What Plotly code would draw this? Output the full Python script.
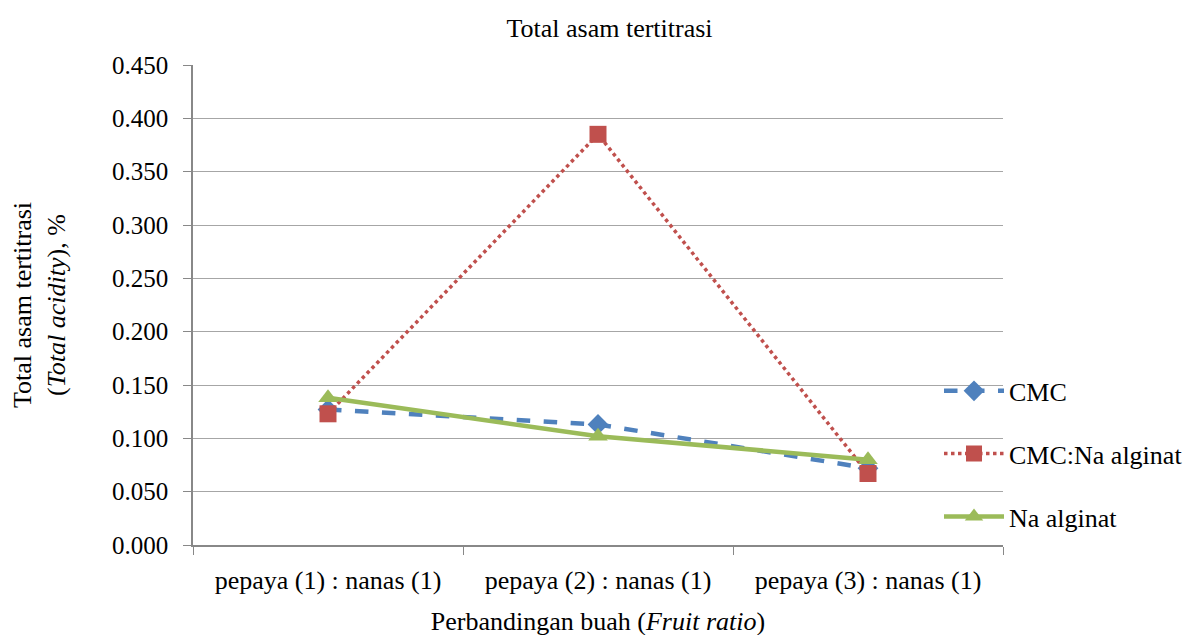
import plotly.graph_objects as go

categories = ["pepaya (1) : nanas (1)", "pepaya (2) : nanas (1)", "pepaya (3) : nanas (1)"]
cmc = [0.127, 0.113, 0.072]
cmc_na = [0.123, 0.385, 0.067]
na_alginat = [0.138, 0.102, 0.080]
y_ticks = [0.0, 0.05, 0.10, 0.15, 0.20, 0.25, 0.30, 0.35, 0.40, 0.45]

FONT = "Liberation Serif"
FS = 26

fig = go.Figure()
fig.add_trace(go.Scatter(
    x=categories, y=cmc, name="CMC", mode="lines+markers", legendgroup="a",
    line=dict(color="#4F81BD", width=4.5, dash="dash"),
    marker=dict(symbol="diamond", size=16, color="#4F81BD")))
fig.add_trace(go.Scatter(
    x=categories, y=cmc_na, name="CMC:Na alginat", mode="lines+markers", legendgroup="b",
    line=dict(color="#C0504D", width=3.5, dash="dot"),
    marker=dict(symbol="square", size=17, color="#C0504D")))
fig.add_trace(go.Scatter(
    x=categories, y=na_alginat, name="Na alginat", mode="lines+markers", legendgroup="c",
    line=dict(color="#9BBB59", width=4.5),
    marker=dict(symbol="triangle-up", size=17, color="#9BBB59")))

fig.update_layout(
    width=1203, height=635,
    margin=dict(l=185, r=208, t=57, b=98),
    paper_bgcolor="white", plot_bgcolor="white",
    font=dict(family=FONT, size=FS, color="black"),
    title=dict(text="Total asam tertitrasi", x=0.5, xanchor="center", y=0.968, yanchor="middle",
               font=dict(family=FONT, size=FS, color="black")),
    legend=dict(x=0.921, xanchor="left", y=0.37, yanchor="top", itemwidth=60,
                bgcolor="rgba(0,0,0,0)", tracegroupgap=26,
                font=dict(family=FONT, size=FS, color="black")),
    xaxis=dict(
        type="category", showgrid=False, showline=True, linecolor="#888888", linewidth=1.5,
        ticks="outside", tickson="boundaries", ticklen=8, tickcolor="#888888",
        ticklabelstandoff=11, range=[-0.5, 2.5],
        title=dict(text="Perbandingan buah (<i>Fruit ratio</i>)", standoff=18,
                   font=dict(family=FONT, size=FS)),
        tickfont=dict(family=FONT, size=FS)),
    yaxis=dict(
        range=[0, 0.45], tickvals=y_ticks, tickformat=".3f",
        showgrid=True, gridcolor="#A6A6A6", gridwidth=1.2,
        showline=True, linecolor="#888888", linewidth=1.5,
        ticks="outside", ticklen=8, tickcolor="#888888", zeroline=False,
        ticklabelstandoff=10,
        title=dict(text="Total asam tertitrasi<br>(<i>Total acidity</i>), %", standoff=40,
                   font=dict(family=FONT, size=FS)),
        tickfont=dict(family=FONT, size=25)),
)

fig.write_html("out.html")
